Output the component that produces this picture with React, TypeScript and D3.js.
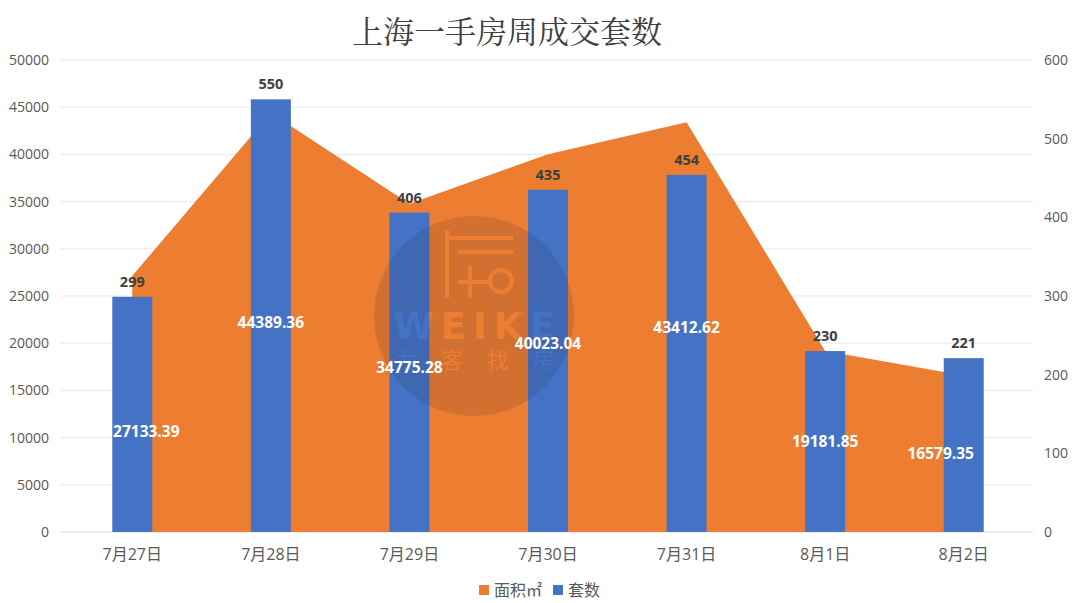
import React from "react";
import * as d3 from "d3";

const categories = ["7月27日", "7月28日", "7月29日", "7月30日", "7月31日", "8月1日", "8月2日"];
const areaValues = [27133.39, 44389.36, 34775.28, 40023.04, 43412.62, 19181.85, 16579.35];
const countValues = [299, 550, 406, 435, 454, 230, 221];
const leftTicks = [0, 5000, 10000, 15000, 20000, 25000, 30000, 35000, 40000, 45000, 50000];
const rightTicks = [0, 100, 200, 300, 400, 500, 600];
const seriesNames = ["面积㎡", "套数"];

const W = 1080;
const H = 603;
const M = { left: 63, right: 47, top: 60, bottom: 71 };
const ORANGE = "#ED7D31";
const BLUE = "#4472C4";
const AXIS_TEXT = "#595959";
const FONT = "'Open Sans', 'Noto Sans CJK SC', sans-serif";

export default function App() {
  const x = d3
    .scaleBand<string>()
    .domain(categories)
    .range([M.left, W - M.right])
    .paddingInner(0)
    .paddingOuter(0);
  const yL = d3.scaleLinear().domain([0, 50000]).range([H - M.bottom, M.top]);
  const yR = d3.scaleLinear().domain([0, 600]).range([H - M.bottom, M.top]);
  const cx = (c: string) => (x(c) as number) + x.bandwidth() / 2;
  const barW = 40;

  const area = d3
    .area<number>()
    .x((_, i) => cx(categories[i]))
    .y0(yL(0))
    .y1((d) => yL(d));

  const labelShift = (i: number) => {
    if (i === 0) return { dx: 14, dy: 28 };
    if (i === categories.length - 1) return { dx: -23, dy: 0 };
    return { dx: 0, dy: 0 };
  };

  return (
    <svg
      width={W}
      height={H}
      style={{ position: "absolute", left: 0, top: 0, background: "#fff" }}
      fontFamily={FONT}
    >
      <defs>
        <mask id="wm">
          <rect x={0} y={0} width={W} height={H} fill="white" />
          <g stroke="black" strokeWidth={4} fill="none" strokeLinecap="butt">
            <path d="M447,230 V298" />
            <path d="M445,238 H513" />
            <path d="M458,252 H513" />
            <path d="M458,282 H490" />
            <path d="M470,266 V298" />
            <circle cx={501} cy={281} r={11} />
          </g>
          <text
            x={393}
            y={339}
            fontSize={37}
            fontWeight={700}
            fill="black"
            textLength={162}
            lengthAdjust="spacing"
            fontFamily="'DejaVu Sans', sans-serif"
          >
            WEIKE
          </text>
          <text
            x={395}
            y={368}
            fontSize={22}
            fill="black"
            textLength={160}
            lengthAdjust="spacing"
            fontFamily="'Noto Sans CJK SC', sans-serif"
          >
            为客找房
          </text>
        </mask>
      </defs>

      <rect width={W} height={H} fill="#fff" />

      {/* title */}
      <text
        x={507}
        y={43}
        textAnchor="middle"
        fontSize={31}
        fill="#404040"
        fontFamily="'Noto Serif CJK SC', 'Noto Sans CJK SC', serif"
      >
        上海一手房周成交套数
      </text>

      {/* gridlines */}
      {leftTicks.map((t) => (
        <line
          key={t}
          x1={M.left - 3}
          x2={W - M.right}
          y1={yL(t)}
          y2={yL(t)}
          stroke={t === 0 ? "#d9d9d9" : "#e8e8e8"}
          strokeWidth={1}
        />
      ))}

      {/* left axis labels */}
      {leftTicks.map((t) => (
        <text key={t} x={49} y={yL(t)} dy="0.35em" textAnchor="end" fontSize={14} fill={AXIS_TEXT}>
          {t}
        </text>
      ))}
      {/* right axis labels */}
      {rightTicks.map((t) => (
        <text key={t} x={1044} y={yR(t)} dy="0.35em" textAnchor="start" fontSize={14} fill={AXIS_TEXT}>
          {t}
        </text>
      ))}

      {/* area series */}
      <path d={area(areaValues) as string} fill={ORANGE} />

      {/* bars */}
      {countValues.map((v, i) => (
        <rect
          key={i}
          x={cx(categories[i]) - barW / 2}
          y={yR(v)}
          width={barW}
          height={yR(0) - yR(v)}
          fill={BLUE}
        />
      ))}

      {/* watermark */}
      <circle cx={474} cy={316} r={100} fill="#1e1e3c" fillOpacity={0.13} mask="url(#wm)" />

      {/* bar labels */}
      {countValues.map((v, i) => (
        <text
          key={i}
          x={cx(categories[i])}
          y={yR(v) - 15}
          dy="0.35em"
          textAnchor="middle"
          fontSize={14.5}
          fontWeight={700}
          fill="#404040"
        >
          {v}
        </text>
      ))}

      {/* area labels */}
      {areaValues.map((v, i) => {
        const s = labelShift(i);
        return (
          <text
            key={i}
            x={cx(categories[i]) + s.dx}
            y={yL(v / 2) + s.dy}
            dy="0.35em"
            textAnchor="middle"
            fontSize={15.5}
            fontWeight={700}
            fill="#ffffff"
          >
            {v.toFixed(2)}
          </text>
        );
      })}

      {/* x axis labels */}
      {categories.map((c) => (
        <text key={c} x={cx(c)} y={554} dy="0.35em" textAnchor="middle" fontSize={16} fill={AXIS_TEXT}>
          {c}
        </text>
      ))}

      {/* legend */}
      <g>
        <rect x={479} y={585} width={10} height={10} fill={ORANGE} />
        <text x={494} y={590} dy="0.35em" fontSize={16} fill={AXIS_TEXT}>
          {seriesNames[0]}
        </text>
        <rect x={553} y={585} width={10} height={10} fill={BLUE} />
        <text x={568} y={590} dy="0.35em" fontSize={16} fill={AXIS_TEXT}>
          {seriesNames[1]}
        </text>
      </g>
    </svg>
  );
}
